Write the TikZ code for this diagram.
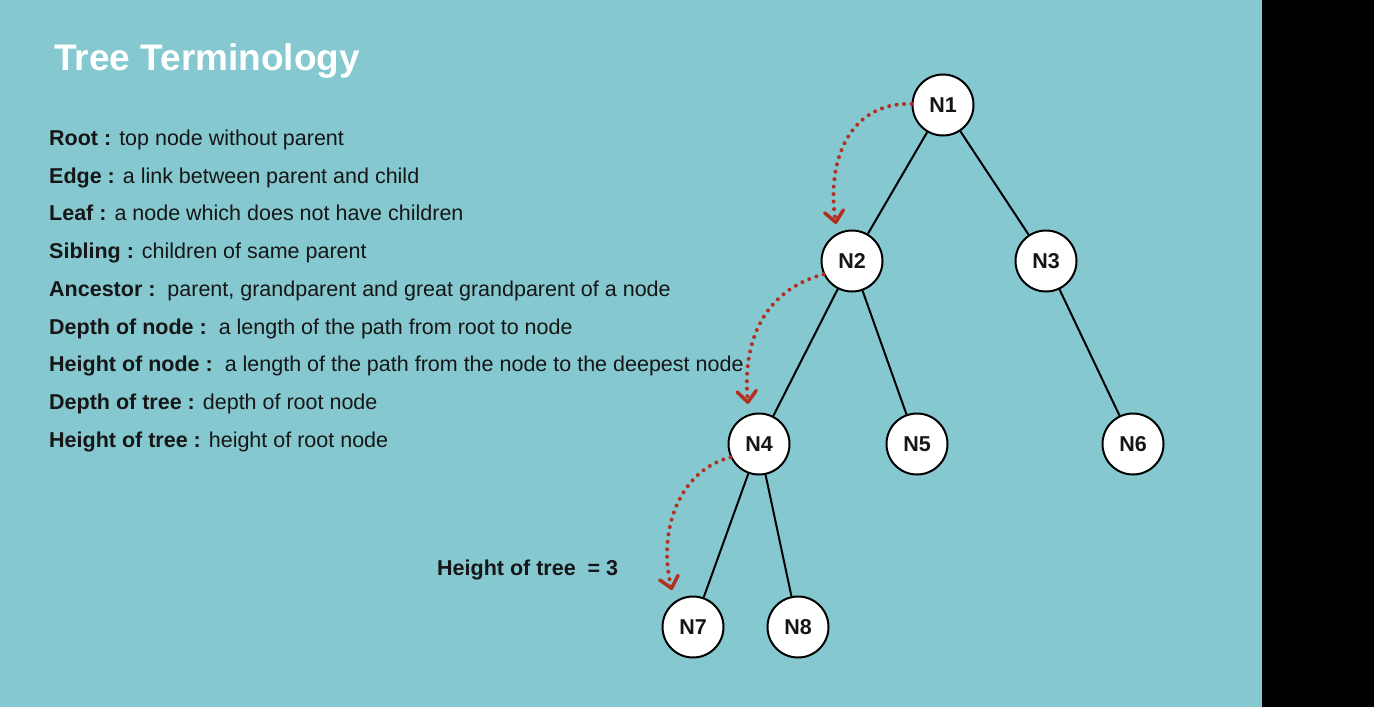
\documentclass[tikz,border=0pt]{standalone}
\usepackage{fontspec}
\setmainfont{Liberation Sans}
\usetikzlibrary{arrows.meta}
\definecolor{bgteal}{HTML}{85C8D0}
\definecolor{arrred}{HTML}{B3301F}
\definecolor{txt}{HTML}{161616}
\begin{document}
\begin{tikzpicture}[x=1pt,y=-1pt,
  tnode/.style={circle,draw=black,line width=2pt,fill=white,minimum size=61pt,inner sep=0pt,font=\fontsize{21.5}{25}\selectfont\bfseries,text=txt},
  tedge/.style={line width=2pt,black},
  term/.style={anchor=base west,inner sep=0pt,font=\fontsize{21.5}{25}\selectfont,text=txt},
  hop/.style={arrred,line width=4pt,line cap=round,dash pattern=on 0pt off 7.5pt,-{Straight Barb[length=11pt,width=19pt,line width=3.5pt,round]}}]
\useasboundingbox (0,0) rectangle (1374,707);
\fill[bgteal] (0,0) rectangle (1262,707);
\fill[black] (1262,0) rectangle (1374,707);

\node[anchor=base west,inner sep=0pt,text=white,font=\fontsize{37}{42}\selectfont\bfseries] (title) at (54,70) {Tree Terminology};

\node[term] (t1) at (49,145) {\textbf{Root :} top node without parent};
\node[term] (t2) at (49,183) {\textbf{Edge :} a link between parent and child};
\node[term] (t3) at (49,220) {\textbf{Leaf :} a node which does not have children};
\node[term] (t4) at (49,258) {\textbf{Sibling :} children of same parent};
\node[term] (t5) at (49,296) {\textbf{Ancestor :}\ \ parent, grandparent and great grandparent of a node};
\node[term] (t6) at (49,334) {\textbf{Depth of node :}\ \ a length of the path from root to node};
\node[term] (t7) at (49,371) {\textbf{Height of node :}\ \ a length of the path from the node to the deepest node};
\node[term] (t8) at (49,409) {\textbf{Depth of tree :} depth of root node};
\node[term] (t9) at (49,447) {\textbf{Height of tree :} height of root node};

\node[term,font=\fontsize{21.5}{25}\selectfont\bfseries] (h) at (437,575) {Height of tree\ \ = 3};

\node[tnode] (N1) at (943,105) {N1};
\node[tnode] (N2) at (852,261) {N2};
\node[tnode] (N3) at (1046,261) {N3};
\node[tnode] (N4) at (759,444) {N4};
\node[tnode] (N5) at (917,444) {N5};
\node[tnode] (N6) at (1133,444) {N6};
\node[tnode] (N7) at (693,627) {N7};
\node[tnode] (N8) at (798,627) {N8};

\draw[tedge] (N1) -- (N2);
\draw[tedge] (N1) -- (N3);
\draw[tedge] (N2) -- (N4);
\draw[tedge] (N2) -- (N5);
\draw[tedge] (N3) -- (N6);
\draw[tedge] (N4) -- (N7);
\draw[tedge] (N4) -- (N8);

\coordinate (a1) at (836,224);
\coordinate (a2) at (748,404);
\coordinate (a3) at (672,590);
\draw[hop] (N1.178) .. controls (850,102) and (826,160) .. (a1);
\draw[hop] (N2.205) .. controls (765,290) and (742,340) .. (a2);
\draw[hop] (N4.205) .. controls (680,470) and (657,530) .. (a3);
\end{tikzpicture}
\end{document}
